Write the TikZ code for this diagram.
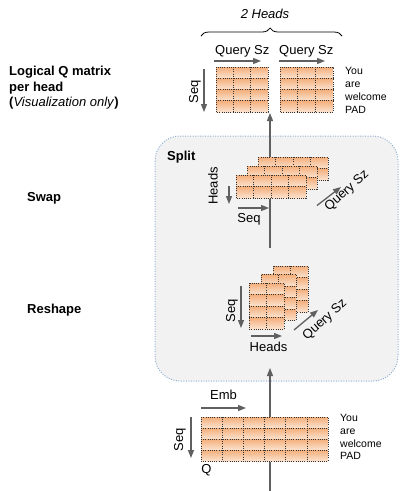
\documentclass[tikz,border=0pt]{standalone}
\usepackage{fontspec}
\setmainfont{Liberation Sans}
\usetikzlibrary{arrows.meta,decorations.pathreplacing}
\definecolor{qtop}{HTML}{F4AE7A}
\definecolor{qbot}{HTML}{FBE3D0}
\definecolor{boxfill}{HTML}{F2F2F2}
\definecolor{boxline}{HTML}{8EAFD4}
\definecolor{arr}{HTML}{606060}
\tikzset{
  gridline/.style={draw=black!80, line width=0.6pt, dash pattern=on 0.8pt off 1.4pt},
  axarr/.style={draw=arr, line width=1.3pt, -{Triangle[length=8pt,width=6pt]}},
  mainarr/.style={draw=arr, line width=1.3pt, -{Triangle[length=8pt,width=6pt]}},
  lbl/.style={inner sep=0pt, font=\fontsize{13}{15}\selectfont},
  padtxt/.style={inner sep=0pt, align=left, anchor=north west, font=\fontsize{10.5}{12.8}\selectfont},
  bold/.style={inner sep=0pt, font=\bfseries\fontsize{13}{15.5}\selectfont},
}
\newcommand{\qgrid}[6]{%
  \pgfmathsetmacro{\qw}{#3*#5}%
  \pgfmathsetmacro{\qh}{#4*#6}%
  \pgfmathtruncatemacro{\qcm}{#3-1}%
  \pgfmathtruncatemacro{\qrm}{#4-1}%
  \foreach \r in {1,...,#4}{%
    \shade[top color=qtop,bottom color=qbot] (#1,{#2+(\r-1)*#6}) rectangle ({#1+\qw},{#2+\r*#6});
  }%
  \foreach \c in {1,...,\qcm}{\draw[gridline] ({#1+\c*#5},#2) -- ({#1+\c*#5},{#2+\qh});}%
  \foreach \r in {1,...,\qrm}{\draw[gridline] (#1,{#2+\r*#6}) -- ({#1+\qw},{#2+\r*#6});}%
  \draw[gridline] (#1,#2) rectangle ({#1+\qw},{#2+\qh});
}
\begin{document}
\begin{tikzpicture}[x=1pt,y=-1pt]
\useasboundingbox (0,0) rectangle (409,491);
% split box
\draw[fill=boxfill, draw=boxline, line width=1pt, dash pattern=on 1pt off 1.5pt, rounded corners=25pt] (155,136) rectangle (398,381);
% main arrows
\coordinate (a1s) at (270,491);
\coordinate (a1e) at (270,368);
\coordinate (a2s) at (270,248);
\coordinate (a2e) at (270,113);
\draw[mainarr] (a1s) -- (a1e);
\draw[mainarr] (a2s) -- (a2e);
% top matrices
\qgrid{216}{67}{3}{4}{17.33}{11.25}
\qgrid{280}{67}{3}{4}{17.67}{11.25}
% swap layers
\qgrid{258}{157}{4}{2}{17.5}{11.5}
\qgrid{247}{166}{4}{2}{17.5}{11.5}
\qgrid{236}{175}{4}{2}{17.5}{11.5}
% reshape layers
\qgrid{273}{266}{2}{4}{17.5}{11.5}
\qgrid{261}{274.5}{2}{4}{17.5}{11.5}
\qgrid{249}{283}{2}{4}{17.5}{11.5}
% Q matrix
\qgrid{201}{417}{6}{4}{21.17}{11}
% brace
\coordinate (brl) at (201,36);
\coordinate (brr) at (342,36);
\draw[decorate, decoration={brace, amplitude=8pt, aspect=0.49}, line width=0.8pt] (brl) -- (brr);
\node[lbl, anchor=base] (twoh) at (265,18.5) {\itshape 2 Heads};
% top labels
\node[lbl, anchor=base west] (qsz1) at (215,54) {Query Sz};
\node[lbl, anchor=base west] (qsz2) at (279,54) {Query Sz};
\coordinate (t1s) at (214,61); \coordinate (t1e) at (261,61);
\coordinate (t2s) at (279,61); \coordinate (t2e) at (325,61);
\draw[axarr] (t1s) -- (t1e);
\draw[axarr] (t2s) -- (t2e);
\coordinate (tss) at (204,69); \coordinate (tse) at (204,112);
\draw[axarr] (tss) -- (tse);
\node[lbl, rotate=90] (seqtop) at (195,92) {Seq};
\node[padtxt] (padtop) at (345,67.5) {You\\are\\welcome\\PAD};
% left labels
\node[bold, anchor=north west, align=left] (logq) at (9,66) {Logical Q matrix\\per head\\(\textit{\mdseries Visualization only})};
\node[bold, anchor=base west] (swap) at (27,201.5) {Swap};
\node[bold, anchor=base west] (reshape) at (27,313) {Reshape};
\node[bold, anchor=base west] (split) at (167,160.7) {Split};
% swap axes
\coordinate (shs) at (229,186); \coordinate (she) at (229,204);
\draw[axarr] (shs) -- (she);
\node[lbl, rotate=90] (swheads) at (213,186) {Heads};
\coordinate (sss) at (238,208); \coordinate (sse) at (269,208);
\draw[axarr] (sss) -- (sse);
\node[lbl] (swseq) at (249,219.5) {Seq};
\coordinate (sqs) at (317,205.5); \coordinate (sqe) at (341,187);
\draw[axarr] (sqs) -- (sqe);
\node[lbl, rotate=42] (swqsz) at (347,191) {Query Sz};
% reshape axes
\coordinate (rss) at (241,286); \coordinate (rse) at (241,328);
\draw[axarr] (rss) -- (rse);
\node[lbl, rotate=90] (rsseq) at (232,311) {Seq};
\coordinate (rhs) at (251,336); \coordinate (rhe) at (282,336);
\draw[axarr] (rhs) -- (rhe);
\node[lbl] (rsheads) at (268.5,347) {Heads};
\coordinate (rqs) at (294,330); \coordinate (rqe) at (318,310);
\draw[axarr] (rqs) -- (rqe);
\node[lbl, rotate=42] (rsqsz) at (325,320) {Query Sz};
% Q axes
\coordinate (es) at (201,408); \coordinate (ee) at (246,408);
\draw[axarr] (es) -- (ee);
\node[lbl] (emb) at (223.5,394.5) {Emb};
\coordinate (bss) at (191,417); \coordinate (bse) at (191,458);
\draw[axarr] (bss) -- (bse);
\node[lbl, rotate=90] (bseq) at (180,440) {Seq};
\node[lbl] (qlbl) at (206.5,470) {Q};
\node[padtxt] (padbot) at (340,414) {You\\are\\welcome\\PAD};
\end{tikzpicture}
\end{document}
